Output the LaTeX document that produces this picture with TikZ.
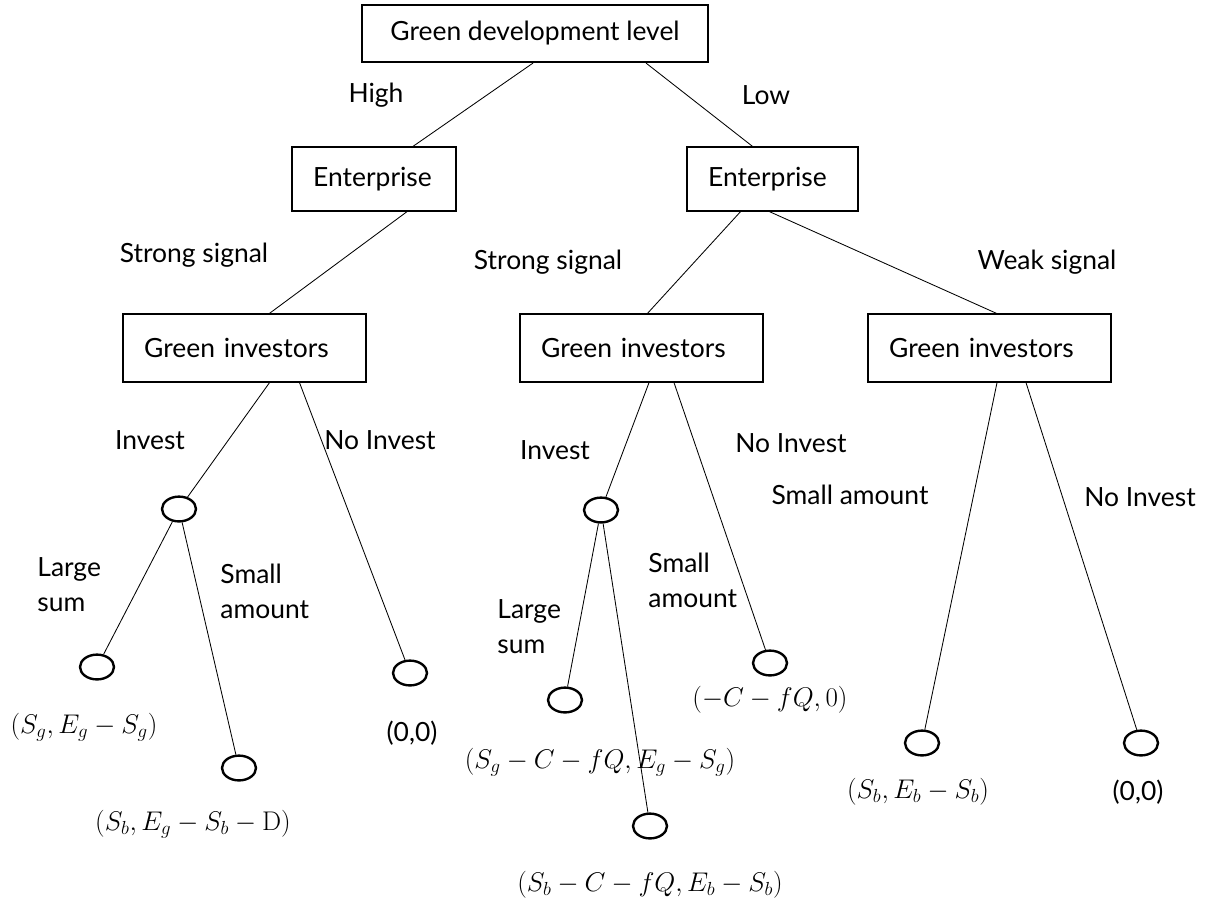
\documentclass[tikz,border=0pt]{standalone}
\usepackage{fix-cm}
\usepackage{amsmath}
\usepackage[no-math]{fontspec}
\setmainfont{Lato}
\usetikzlibrary{shapes.geometric,calc}

\begin{document}
\begin{tikzpicture}[x=0.025cm,y=-0.025cm,line width=0.6pt,
  box/.style={draw,line width=0.9pt,align=left,inner xsep=0.53cm,inner ysep=0pt,
    font=\fontsize{18.8}{25}\selectfont},
  chance/.style={draw,ellipse,line width=1.7pt,inner sep=0pt,
    minimum width=0.85cm,minimum height=0.62cm},
  lbl/.style={font=\fontsize{18.8}{25}\selectfont,inner sep=0pt},
  pay/.style={font=\fontsize{19.2}{24}\selectfont,inner sep=0pt}]
\useasboundingbox (0,0) rectangle (1207,904);
% decision boxes
\node [box,line width=1.5pt,align=center,minimum width=8.65cm,minimum height=1.425cm] (level) at (535,33.5) {Green development level};
\node [box,text width=3.04cm,minimum height=1.6cm] (entl) at (374,179) {Enterprise};
\node [box,text width=3.215cm,minimum height=1.6cm] (entr) at (772.5,179) {Enterprise};
\node [box,text width=5.015cm,minimum height=1.7cm] (gil) at (244.5,348) {Green investors};
\node [box,text width=5.015cm,minimum height=1.7cm] (gim) at (641.5,348) {Green investors};
\node [box,text width=5.015cm,minimum height=1.7cm] (gir) at (989.5,348) {Green investors};
% chance nodes
\node [chance] (l1) at (179,509) {};
\node [chance] (ll) at (97,667) {};
\node [chance] (ls) at (239,768) {};
\node [chance] (ln) at (410,673) {};
\node [chance] (m1) at (601,510) {};
\node [chance] (mll) at (565,700) {};
\node [chance] (mls) at (650,826) {};
\node [chance] (mn) at (770,663) {};
\node [chance] (rs) at (922,743) {};
\node [chance] (rn) at (1141,743) {};
% branches
\draw ($(level.south)+(-2,0)$) -- ($(entl.north)+(39,0)$);
\draw ($(level.south)+(111,0)$) -- ($(entr.north)+(-20,0)$);
\draw ($(entl.south)+(33,0)$) -- ($(gil.north)+(25,0)$);
\draw ($(entr.south)+(-32,0)$) -- ($(gim.north)+(6,0)$);
\draw ($(entr.south)+(-3,0)$) -- ($(gir.north)+(7,0)$);
\draw ($(gil.south)+(25,0)$) -- (l1);
\draw ($(gil.south)+(55,0)$) -- (ln);
\draw ($(gim.south)+(7.5,0)$) -- (m1);
\draw ($(gim.south)+(32.5,0)$) -- (mn);
\draw ($(gir.south)+(7.5,0)$) -- (rs);
\draw ($(gir.south)+(36.5,0)$) -- (rn);
\draw (l1) -- (ll);
\draw (l1) -- (ls);
\draw (m1) -- (mll);
\draw (m1) -- (mls);
% branch labels
\node [lbl] (high) at (376,95) {High};
\node [lbl] (low) at (766,95) {Low};
\node [lbl] (strongl) at (194,255) {Strong signal};
\node [lbl] (strongm) at (548,262) {Strong signal};
\node [lbl] (weak) at (1047,262) {Weak signal};
\node [lbl] (investl) at (150,440) {Invest};
\node [lbl] (noinvl) at (380,440) {No Invest};
\node [lbl] (investm) at (555,450) {Invest};
\node [lbl] (noinvm) at (791,443) {No Invest};
\node [lbl] (smallr) at (850,495) {Small amount};
\node [lbl] (noinvr) at (1140,497) {No Invest};
\node [lbl,align=left,anchor=west] (largel) at (37,585) {Large\\sum};
\node [lbl,align=left,anchor=west] (smalll) at (220,591) {Small\\amount};
\node [lbl,align=left,anchor=west] (largem) at (497,627) {Large\\sum};
\node [lbl,align=left,anchor=west] (smallm) at (648,580) {Small\\amount};
% payoffs
\node [pay] (pll) at (84,727) {$(S_g,E_g-S_g)$};
\node [lbl] (pln) at (412,733) {(0,0)};
\node [pay] (pls) at (193,824) {$(S_b,E_g-S_b-\mathrm{D})$};
\node [pay] (pmll) at (600,762) {$(S_g-C-fQ,E_g-S_g)$};
\node [pay] (pmls) at (650,885) {$(S_b-C-fQ,E_b-S_b)$};
\node [pay] (pmn) at (770,700) {$(-C-fQ,0)$};
\node [pay] (prs) at (918,792) {$(S_b,E_b-S_b)$};
\node [lbl] (prn) at (1138,792) {(0,0)};
\end{tikzpicture}
\end{document}
